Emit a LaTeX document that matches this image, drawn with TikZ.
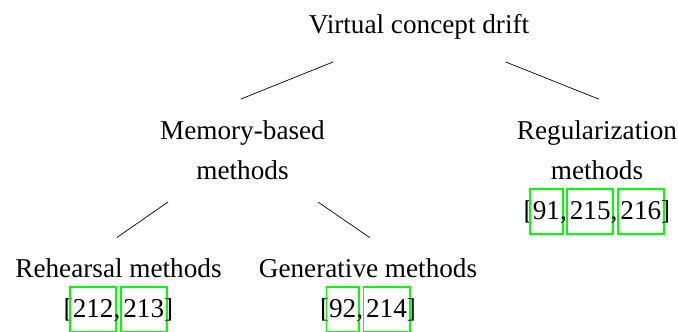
\documentclass[tikz,border=0pt]{standalone}
\usepackage{fontspec}
\setmainfont{Liberation Serif}
\definecolor{lgreen}{rgb}{0,1,0}
\newcommand\gb[1]{\setbox0=\hbox{#1}\makebox[\wd0]{\smash{\color{lgreen}\setlength\fboxrule{1.8pt}\setlength\fboxsep{1.8pt}\fbox{\rule[-12pt]{0pt}{40pt}\color{black}#1}}}}
\begin{document}
\begin{tikzpicture}[x=1pt,y=-1pt,
  concept/.style={align=center, inner sep=22pt, font=\fontsize{27.2pt}{40pt}\selectfont},
  edge/.style={draw=black, line width=0.7pt, shorten >=-2pt}]
\useasboundingbox (0,0) rectangle (678,332);
\node[concept, anchor=base] (root) at (419,34) {Virtual concept drift};
\node[concept, anchor=north] (mem) at (242.5,98.4) {Memory-based\\methods};
\node[concept, anchor=north] (reg) at (597,98.4) {Regularization\\methods\\ {[}\gb{91},\hspace{3pt}\gb{215},\hspace{3pt}\gb{216}]};
\node[concept, anchor=north] (reh) at (118.5,236.4) {Rehearsal methods\\ {[}\gb{212},\hspace{3pt}\gb{213}]};
\node[concept, anchor=north] (gen) at (368,236.4) {Generative methods\\ {[}\gb{92},\hspace{3pt}\gb{214}]};
\draw[edge] (root) -- (mem.north);
\draw[edge] (root) -- (reg.north);
\draw[edge] (mem) -- (reh.north);
\draw[edge] (mem) -- (gen.north);
\end{tikzpicture}
\end{document}
